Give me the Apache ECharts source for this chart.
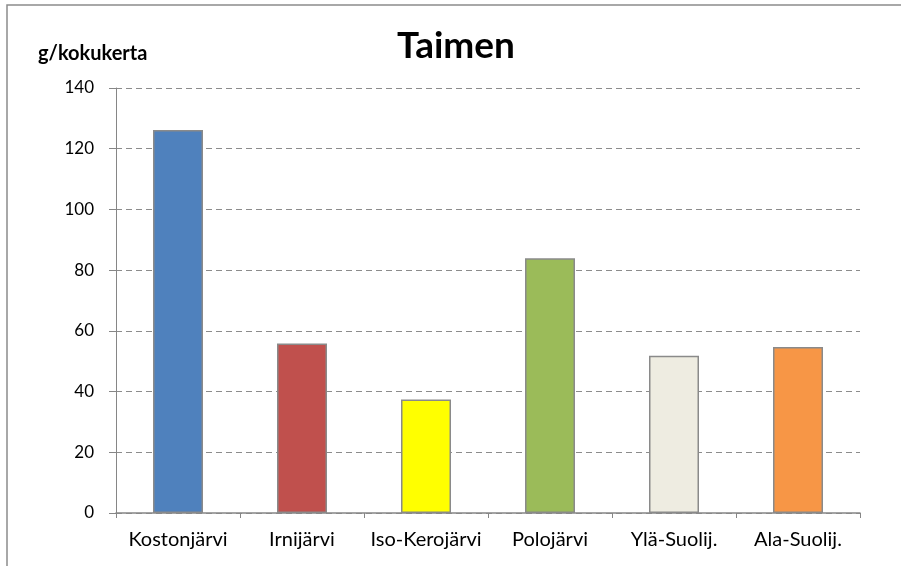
<!DOCTYPE html>
<html>
<head>
<meta charset="utf-8">
<script src="https://cdn.jsdelivr.net/npm/echarts@6/dist/echarts.min.js"></script>
<style>
html,body{margin:0;padding:0;background:#fff;}
#chart{width:901px;height:566px;}
</style>
</head>
<body>
<div id="chart"></div>
<script>
const categories = ['Kostonjärvi', 'Irnijärvi', 'Iso-Kerojärvi', 'Polojärvi', 'Ylä-Suolij.', 'Ala-Suolij.'];
const values = [126.2, 55.8, 37.4, 83.9, 51.8, 54.7];
const barColors = ['#4F81BD', '#C0504D', '#FFFF00', '#9BBB59', '#EEECE1', '#F79646'];
const titleText = 'Taimen';
const yAxisName = 'g/kokukerta';

const chart = echarts.init(document.getElementById('chart'), null, {renderer: 'canvas'});
const font = 'Lato';
chart.setOption({
  animation: false,
  backgroundColor: '#fff',
  title: {
    text: titleText,
    left: 451,
    top: 23,
    textAlign: 'center',
    textStyle: {fontFamily: font, fontWeight: 'bold', fontSize: 37, color: '#000'}
  },
  graphic: [{
    type: 'rect',
    shape: {x: 7, y: 5, width: 1200, height: 1200},
    style: {fill: 'none', stroke: '#8c8c8c', lineWidth: 1.5},
    silent: true,
    z: -1
  }],
  grid: {left: 116, right: 41, top: 88, bottom: 53, containLabel: false},
  xAxis: {
    type: 'category',
    data: categories,
    axisLine: {lineStyle: {color: '#868686', width: 1.5}},
    axisTick: {show: true, length: 5, alignWithLabel: false, lineStyle: {color: '#868686'}},
    axisLabel: {fontFamily: font, fontSize: 20, color: '#000', margin: 17, interval: 0}
  },
  yAxis: {
    type: 'value',
    min: 0, max: 140, interval: 20,
    name: yAxisName,
    nameLocation: 'end',
    nameGap: 0,
    nameTextStyle: {fontFamily: font, fontWeight: 'bold', fontSize: 20, color: '#000', align: 'left', verticalAlign: 'bottom', padding: [0, 0, 24, -78]},
    axisLine: {show: true, lineStyle: {color: '#868686', width: 1}},
    axisTick: {show: true, length: 7, lineStyle: {color: '#868686'}},
    axisLabel: {fontFamily: font, fontSize: 17, color: '#000', margin: 22},
    splitLine: {show: true, lineStyle: {color: '#8c8c8c', type: [6, 4], width: 1}}
  },
  series: [{
    type: 'bar',
    data: values.map((v, i) => ({value: v, itemStyle: {color: barColors[i]}})),
    barWidth: 50,
    itemStyle: {borderColor: '#8a8a8a', borderWidth: 1.5}
  }]
});
</script>
</body>
</html>
